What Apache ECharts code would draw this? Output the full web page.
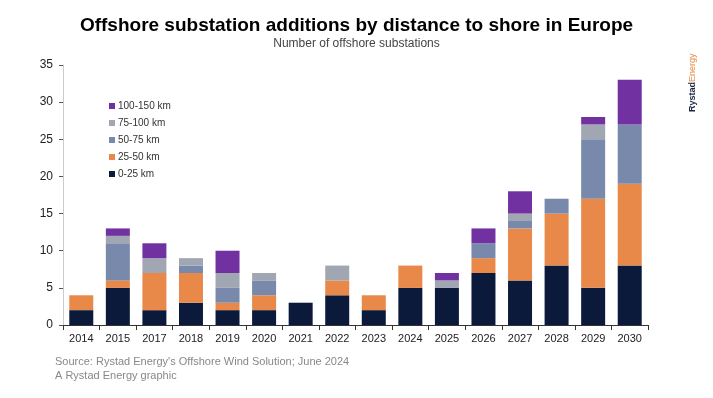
<!DOCTYPE html>
<html>
<head>
<meta charset="utf-8">
<script src="https://cdn.jsdelivr.net/npm/echarts@6/dist/echarts.min.js"></script>
<style>
  html, body { margin: 0; padding: 0; background: #fff; }
  #chart { width: 713px; height: 398px; }
</style>
</head>
<body>
<div id="chart"></div>
<script>
// data
var years = ['2014','2015','2017','2018','2019','2020','2021','2022','2023','2024','2025','2026','2027','2028','2029','2030'];
var km0_25    = [2, 5, 2, 3, 2, 2, 3, 4, 2, 5, 5, 7, 6, 8, 5, 8];
var km25_50   = [2, 1, 5, 4, 1, 2, 0, 2, 2, 3, 0, 2, 7, 7, 12, 11];
var km50_75   = [0, 5, 0, 1, 2, 2, 0, 0, 0, 0, 0, 2, 1, 2, 8, 8];
var km75_100  = [0, 1, 2, 1, 2, 1, 0, 2, 0, 0, 1, 0, 1, 0, 2, 0];
var km100_150 = [0, 1, 2, 0, 3, 0, 0, 0, 0, 0, 1, 2, 3, 0, 1, 6];

var myChart = echarts.init(document.getElementById('chart'));

function bar(name, data, color) {
    return {
        name: name,
        type: 'bar',
        stack: 'total',
        barWidth: 24,
        itemStyle: { color: color },
        data: data
    };
}

var option = {
    animation: false,
    textStyle: { fontFamily: 'Liberation Sans' },
    title: {
        text: 'Offshore substation additions by distance to shore in Europe',
        subtext: 'Number of offshore substations',
        left: 'center',
        top: 11,
        itemGap: 3,
        textStyle: { fontSize: 19, fontWeight: 'bold', color: '#000' },
        subtextStyle: { fontSize: 12, color: '#444' }
    },
    legend: {
        orient: 'vertical',
        left: 104,
        top: 96,
        itemWidth: 6,
        itemHeight: 6,
        itemGap: 7,
        icon: 'rect',
        textStyle: { fontSize: 10, color: '#333', padding: [0, 0, 0, -2] },
        data: ['100-150 km', '75-100 km', '50-75 km', '25-50 km', '0-25 km']
    },
    grid: { left: 63, right: 65, top: 65, bottom: 73 },
    xAxis: {
        type: 'category',
        data: years,
        axisLine: { lineStyle: { color: '#333' } },
        axisTick: { show: true, length: 5, lineStyle: { color: '#333' } },
        axisLabel: { fontSize: 11, color: '#222', margin: 8 }
    },
    yAxis: {
        type: 'value',
        min: 0,
        max: 35,
        interval: 5,
        axisLine: { show: true, lineStyle: { color: '#ccc' } },
        axisTick: { show: true, length: 4, lineStyle: { color: '#555' } },
        splitLine: { show: false },
        axisLabel: { fontSize: 12, color: '#222', margin: 10 }
    },
    graphic: [
        { type: 'text', left: 55, top: 356, style: { text: "Source: Rystad Energy's Offshore Wind Solution; June 2024", fontSize: 11, fill: '#888', fontFamily: 'Liberation Sans' } },
        { type: 'text', left: 55, top: 370, style: { text: 'A Rystad Energy graphic', fontSize: 11, fill: '#888', fontFamily: 'Liberation Sans' } },
        { type: 'text', x: 688, y: 112, rotation: Math.PI / 2, style: { text: '{a|Rystad}{b|Energy}', fontFamily: 'Liberation Sans',
            rich: { a: { fontSize: 9, fontWeight: 'bold', fill: '#1a2440' }, b: { fontSize: 9, fill: '#e88b45' } } } }
    ],
    series: [
        bar('0-25 km', km0_25, '#0b1a3b'),
        bar('25-50 km', km25_50, '#e8894a'),
        bar('50-75 km', km50_75, '#7889ab'),
        bar('75-100 km', km75_100, '#a0a6b2'),
        bar('100-150 km', km100_150, '#7231a1')
    ]
};

myChart.setOption(option);
</script>
</body>
</html>
